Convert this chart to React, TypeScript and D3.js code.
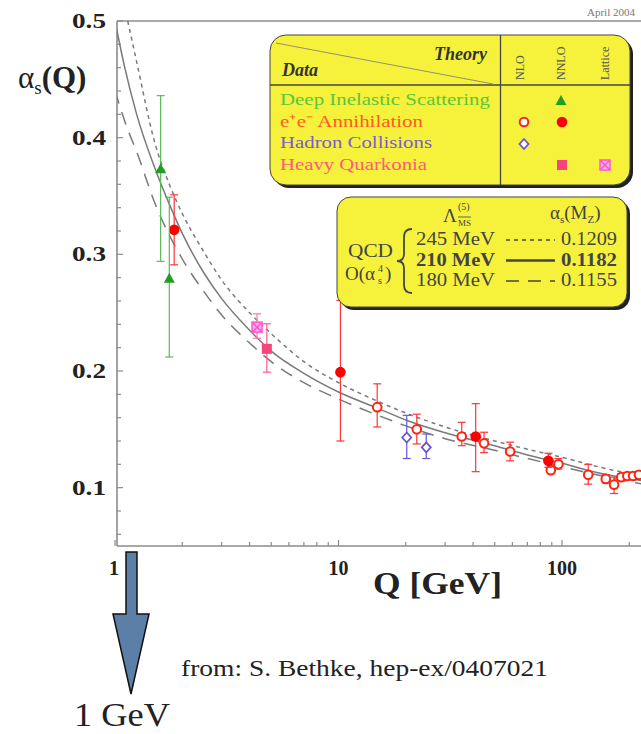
import React from "react";
import * as d3 from "d3";

// running coupling curves: [Q in GeV, alpha_s]
const lambda245: [number, number][] = [
  [1.14, 0.5], [1.25, 0.465], [1.5, 0.397], [1.75, 0.36], [2, 0.335], [2.5, 0.302],
  [3, 0.278], [4, 0.25], [5, 0.232], [7, 0.208], [10, 0.19], [15, 0.174], [20, 0.164],
  [30, 0.152], [50, 0.14], [70, 0.133], [100, 0.126], [160, 0.116], [230, 0.11],
];
const lambda210: [number, number][] = [
  [1.0, 0.5], [1.1, 0.462], [1.25, 0.42], [1.5, 0.375], [1.75, 0.343], [2, 0.318],
  [2.5, 0.284], [3, 0.262], [4, 0.235], [5, 0.217], [7, 0.198], [10, 0.182], [15, 0.168],
  [20, 0.158], [30, 0.147], [50, 0.136], [70, 0.128], [100, 0.121], [130, 0.115],
  [160, 0.111], [230, 0.106],
];
const lambda180: [number, number][] = [
  [1.0, 0.44], [1.13, 0.409], [1.25, 0.388], [1.5, 0.345], [2, 0.296], [2.5, 0.268],
  [3, 0.248], [4, 0.224], [5, 0.208], [7, 0.19], [10, 0.176], [15, 0.162], [20, 0.153],
  [30, 0.142], [50, 0.132], [70, 0.125], [100, 0.118], [160, 0.109], [230, 0.103],
];

type Pt = { q: number; a: number; lo: number; hi: number };

const disNNLO: Pt[] = [
  { q: 1.6, a: 0.373, lo: 0.294, hi: 0.436 },
  { q: 1.75, a: 0.279, lo: 0.212, hi: 0.349 },
];
const eeNNLO: Pt[] = [
  { q: 1.84, a: 0.321, lo: 0.291, hi: 0.351 },
  { q: 10.2, a: 0.199, lo: 0.14, hi: 0.2605 },
  { q: 41.1, a: 0.1438, lo: 0.1137, hi: 0.172 },
  { q: 86.9, a: 0.123, lo: 0.1174, hi: 0.1295 },
];
const eeNLO: Pt[] = [
  { q: 14.9, a: 0.169, lo: 0.152, hi: 0.189 },
  { q: 22.4, a: 0.15, lo: 0.1375, hi: 0.163 },
  { q: 35.6, a: 0.1438, lo: 0.136, hi: 0.156 },
  { q: 44.8, a: 0.138, lo: 0.13, hi: 0.1475 },
  { q: 58.6, a: 0.131, lo: 0.123, hi: 0.139 },
  { q: 96.4, a: 0.12, lo: 0.116, hi: 0.125 },
  { q: 89.1, a: 0.115, lo: 0.112, hi: 0.118 },
  { q: 131, a: 0.111, lo: 0.103, hi: 0.12 },
  { q: 157, a: 0.1075, lo: 0.104, hi: 0.111 },
  { q: 171, a: 0.1026, lo: 0.095, hi: 0.109 },
  { q: 184, a: 0.109, lo: 0.106, hi: 0.112 },
  { q: 196, a: 0.11, lo: 0.107, hi: 0.113 },
  { q: 208, a: 0.11, lo: 0.107, hi: 0.113 },
  { q: 221, a: 0.111, lo: 0.108, hi: 0.114 },
];
const hadronNLO: Pt[] = [
  { q: 20.2, a: 0.143, lo: 0.125, hi: 0.162 },
  { q: 24.7, a: 0.1346, lo: 0.125, hi: 0.146 },
];
const quarkoniaNNLO: Pt[] = [{ q: 4.78, a: 0.219, lo: 0.199, hi: 0.2405 }];
const quarkoniaLattice: Pt[] = [{ q: 4.32, a: 0.2376, lo: 0.228, hi: 0.249 }];

const yTicks = [0.1, 0.2, 0.3, 0.4, 0.5];
const xTicks = [1, 10, 100];
const legendRows = [
  { label: "Deep Inelastic Scattering", color: "#5cc63a", len: 210 },
  { label: "e\u207Ae\u207B Annihilation", color: "#ff5a24", len: 143 },
  { label: "Hadron Collisions", color: "#7a5ccc", len: 152 },
  { label: "Heavy Quarkonia", color: "#ff5a7e", len: 147 },
];
const lambdaRows = [
  { mev: "245 MeV", as: "0.1209", dash: "4,4", bold: false },
  { mev: "210 MeV", as: "0.1182", dash: "", bold: true },
  { mev: "180 MeV", as: "0.1155", dash: "13,9", bold: false },
];

const W = 641;
const H = 734;
const axisX = 117;
const axisY = 546;
const topY = 21;

const x = d3.scaleLog().domain([1, 100]).range([115, 562]);
const y = d3.scaleLinear().domain([0.05, 0.5]).range([546, 21]);

const serif = "Liberation Serif, Times New Roman, serif";

function Marker({ kind, cx, cy }: { kind: string; cx: number; cy: number }) {
  switch (kind) {
    case "tri":
      return <path d={`M${cx},${cy - 6}L${cx + 5.5},${cy + 4}L${cx - 5.5},${cy + 4}Z`} fill="#1f9e1f" />;
    case "open":
      return <circle cx={cx} cy={cy} r={4.3} fill="#fff" stroke="#f21" strokeWidth={2} />;
    case "filled":
      return <circle cx={cx} cy={cy} r={5.3} fill="#f00" />;
    case "diamond":
      return (
        <path d={`M${cx},${cy - 5}L${cx + 4.5},${cy}L${cx},${cy + 5}L${cx - 4.5},${cy}Z`}
          fill="#fff" stroke="#6a55d6" strokeWidth={1.8} />
      );
    case "square":
      return <rect x={cx - 5} y={cy - 5} width={10} height={10} fill="#f4467a" />;
    case "lattice":
      return (
        <g stroke="#ff55cc" strokeWidth={1.5}>
          <rect x={cx - 5} y={cy - 5} width={10} height={10} fill="#ffb0ee" />
          <path d={`M${cx - 5},${cy - 5}L${cx + 5},${cy + 5}M${cx + 5},${cy - 5}L${cx - 5},${cy + 5}`} />
        </g>
      );
    default:
      return null;
  }
}

function Series({ data, kind, color }: { data: Pt[]; kind: string; color: string }) {
  return (
    <g>
      {data.map((d, i) => {
        const cx = x(d.q);
        return (
          <g key={i}>
            <g stroke={color} strokeWidth={1.2} fill="none">
              <line x1={cx} x2={cx} y1={y(d.lo)} y2={y(d.hi)} />
              <line x1={cx - 4} x2={cx + 4} y1={y(d.lo)} y2={y(d.lo)} />
              <line x1={cx - 4} x2={cx + 4} y1={y(d.hi)} y2={y(d.hi)} />
            </g>
            <Marker kind={kind} cx={cx} cy={y(d.a)} />
          </g>
        );
      })}
    </g>
  );
}

export default function App() {
  const line = d3
    .line<[number, number]>()
    .x((d) => x(d[0]))
    .y((d) => y(d[1]))
    .curve(d3.curveMonotoneX);

  const minorY = d3.range(0.06, 0.5, 0.02).filter((v) => Math.abs(v * 10 - Math.round(v * 10)) > 0.01);
  const minorX: number[] = [];
  [1, 10, 100].forEach((dec) => {
    for (let k = 2; k <= 9; k++) if (x(dec * k) < W) minorX.push(dec * k);
  });

  return (
    <svg width={W} height={H} style={{ position: "absolute", left: 0, top: 0, background: "#fff", fontFamily: serif }}>
      <defs>
        <clipPath id="plot">
          <rect x={axisX} y={topY} width={W - axisX} height={axisY - topY} />
        </clipPath>
      </defs>

      {/* frame */}
      <g stroke="#8c8c8c" strokeWidth={1.6} fill="none">
        <line x1={axisX} x2={W} y1={topY} y2={topY} />
        <line x1={axisX} x2={axisX} y1={topY} y2={axisY} />
        <line x1={axisX} x2={W} y1={axisY} y2={axisY} />
      </g>
      <text x={587} y={16} fontSize={11} fill="#777">April 2004</text>

      {/* ticks */}
      <g stroke="#8c8c8c" strokeWidth={1.2}>
        {yTicks.map((t) => <line key={t} x1={axisX} x2={axisX + 6} y1={y(t)} y2={y(t)} />)}
        {minorY.map((t) => <line key={t} x1={axisX} x2={axisX + 4} y1={y(t)} y2={y(t)} />)}
        {xTicks.map((t) => <line key={t} x1={x(t)} x2={x(t)} y1={axisY} y2={axisY - 6} />)}
        {minorX.map((t) => <line key={t} x1={x(t)} x2={x(t)} y1={axisY} y2={axisY - 4} />)}
      </g>
      <g fontWeight="bold" fontSize={22} fill="#222" textAnchor="end">
        {yTicks.map((t) => (
          <text key={t} x={106} y={y(t) + 7} textLength={34} lengthAdjust="spacingAndGlyphs">
            {t.toFixed(1)}
          </text>
        ))}
      </g>
      <g fontWeight="bold" fontSize={20} fill="#222" textAnchor="middle">
        {xTicks.map((t) => (
          <text key={t} x={x(t) + (t === 1 ? -1 : 0)} y={575}>{t}</text>
        ))}
      </g>
      <text x={373} y={594} fontSize={31} fontWeight="bold" fill="#222" textLength={129}
        lengthAdjust="spacingAndGlyphs">Q [GeV]</text>

      {/* y title */}
      <text x={18} y={88} fill="#222" fontSize={31}>
        <tspan>α</tspan>
        <tspan fontSize={19} dy={6}>s</tspan>
        <tspan fontWeight="bold" dy={-6}>(Q)</tspan>
      </text>

      {/* theory curves */}
      <g clipPath="url(#plot)" fill="none" stroke="#7a7a7a" strokeWidth={1.5}>
        <path d={line(lambda245) || ""} strokeDasharray="4,4" />
        <path d={line(lambda210) || ""} />
        <path d={line(lambda180) || ""} strokeDasharray="13,9" />
      </g>

      {/* measurements */}
      <Series data={hadronNLO} kind="diamond" color="#6a55d6" />
      <Series data={eeNLO} kind="open" color="#f33" />
      <Series data={eeNNLO} kind="filled" color="#f33" />
      <Series data={disNNLO} kind="tri" color="#5cb85c" />
      <Series data={quarkoniaLattice} kind="lattice" color="#f7a" />
      <Series data={quarkoniaNNLO} kind="square" color="#ff5a8a" />

      {/* legend: data / theory table */}
      <rect x={273} y={38} width={360} height={150} rx={16} fill="#222" />
      <rect x={270} y={35} width={360} height={150} rx={16} fill="#f6f23c" stroke="#444" strokeWidth={1} />
      <g stroke="#444" strokeWidth={1.3}>
        <line x1={500.5} x2={500.5} y1={35} y2={185} />
        <line x1={270} x2={630} y1={85} y2={85} />
        <line x1={276} x2={493} y1={43} y2={84} strokeWidth={0.8} stroke="#777" />
      </g>
      <g fontWeight="bold" fontStyle="italic" fontSize={18} fill="#333">
        <text x={487} y={60} textAnchor="end">Theory</text>
        <text x={282} y={76}>Data</text>
      </g>
      <g fontSize={12} fill="#555">
        {["NLO", "NNLO", "Lattice"].map((h, i) => (
          <text key={h} transform={`translate(${[524, 565, 609][i]},${80}) rotate(-90)`}>{h}</text>
        ))}
      </g>
      <g fontSize={17}>
        {legendRows.map((r, i) => (
          <text key={r.label} x={280} y={105 + i * 21.7} fill={r.color} textLength={r.len}
            lengthAdjust="spacingAndGlyphs">{r.label}</text>
        ))}
      </g>
      <Marker kind="tri" cx={561} cy={101} />
      <Marker kind="open" cx={524} cy={122} />
      <Marker kind="filled" cx={562} cy={122} />
      <Marker kind="diamond" cx={524} cy={144} />
      <Marker kind="square" cx={562} cy={165} />
      <Marker kind="lattice" cx={605} cy={165} />

      {/* legend: lambda values */}
      <rect x={340} y={200} width={290} height={110} rx={14} fill="#222" />
      <rect x={337} y={197} width={290} height={110} rx={14} fill="#f6f23c" stroke="#444" strokeWidth={1} />
      <g fill="#444">
        <text x={443} y={222} fontSize={19}>Λ</text>
        <text x={458} y={210} fontSize={10}>(5)</text>
        <text x={458} y={226} fontSize={9}>MS</text>
        <line x1={458} x2={471} y1={217} y2={217} stroke="#444" strokeWidth={0.8} />
        <text x={550} y={219} fontSize={19}>
          <tspan>α</tspan>
          <tspan fontSize={11} dy={4}>s</tspan>
          <tspan dy={-4}>(M</tspan>
          <tspan fontSize={11} dy={4}>Z</tspan>
          <tspan dy={-4}>)</tspan>
        </text>
        <text x={348} y={257} fontSize={19} textLength={45} lengthAdjust="spacingAndGlyphs">QCD</text>
        <text x={345} y={280} fontSize={19}>O(α</text>
        <text x={378} y={272} fontSize={10}>4</text>
        <text x={378} y={284} fontSize={10}>s</text>
        <text x={385} y={280} fontSize={19}>)</text>
        <path d="M412,229 Q404,229 404,237 L404,254 Q404,261 397,261 Q404,261 404,268 L404,285 Q404,293 412,293"
          fill="none" stroke="#444" strokeWidth={1.8} />
        {lambdaRows.map((r, i) => {
          const by = 245 + i * 20.5;
          return (
            <g key={r.mev} fontWeight={r.bold ? "bold" : "normal"}>
              <text x={416} y={by} fontSize={18} textLength={79} lengthAdjust="spacingAndGlyphs">{r.mev}</text>
              <line x1={506} x2={555} y1={by - 5} y2={by - 5} stroke="#444"
                strokeWidth={r.bold ? 2.4 : 1.4} strokeDasharray={r.dash || undefined} />
              <text x={617} y={by} fontSize={18} textAnchor="end" textLength={56}
                lengthAdjust="spacingAndGlyphs">{r.as}</text>
            </g>
          );
        })}
      </g>

      {/* arrow down to 1 GeV */}
      <path d="M126,552 L137,552 L137,614 L149,614 L131,694 L113,614 L126,614 Z"
        fill="#5b7fa6" stroke="#111" strokeWidth={1.5} strokeLinejoin="miter" />
      <text x={181} y={676} fontSize={23} fill="#222" textLength={367} lengthAdjust="spacingAndGlyphs">
        from: S. Bethke, hep-ex/0407021
      </text>
      <text x={74} y={726} fontSize={34} fill="#222" textLength={96} lengthAdjust="spacingAndGlyphs">1 GeV</text>
    </svg>
  );
}
